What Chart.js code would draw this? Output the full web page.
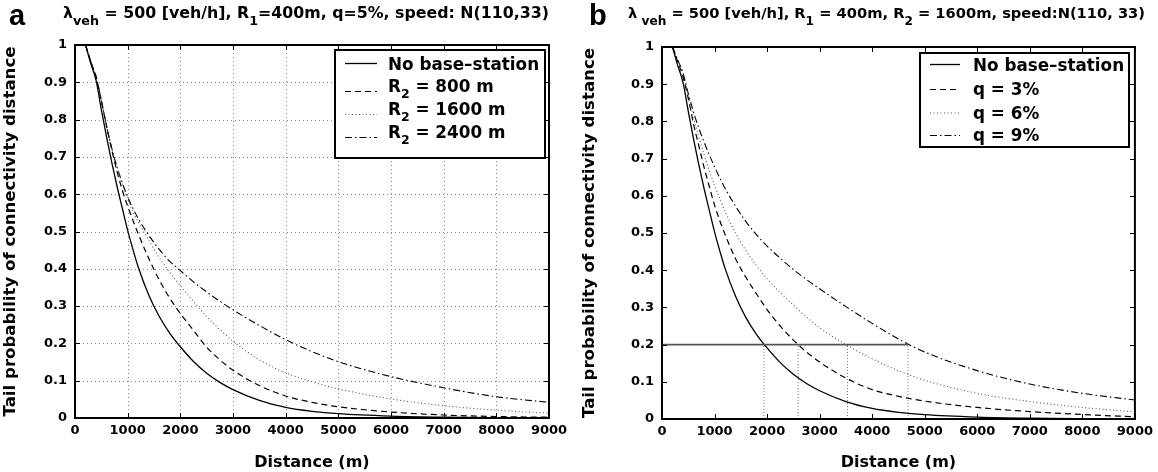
<!DOCTYPE html>
<html><head><meta charset="utf-8">
<script src="https://cdn.jsdelivr.net/npm/chart.js@4.4.1/dist/chart.umd.min.js"></script>
<style>
html,body{margin:0;padding:0;background:#fff;}
#wrap{position:relative;width:1158px;height:472px;overflow:hidden;}
.c{position:absolute;top:0;width:579px;height:472px;}
</style></head><body>
<div id="wrap">
<div class="c" style="left:0"><canvas id="ca" width="579" height="472"></canvas></div>
<div class="c" style="left:579px"><canvas id="cb" width="579" height="472"></canvas></div>
</div>
<script>
// ---------- data ----------
const distances = [200, 300, 400, 500, 600, 700, 800, 900, 1000, 1100, 1200, 1400, 1600, 1800, 2000, 2250, 2500, 2750, 3000, 3500, 4000, 4500, 5000, 6000, 7000, 8000, 9000];
const xTicks = [0, 1000, 2000, 3000, 4000, 5000, 6000, 7000, 8000, 9000];
const yTicks = [0, 0.1, 0.2, 0.3, 0.4, 0.5, 0.6, 0.7, 0.8, 0.9, 1];

// panel a : lambda = 500 veh/h, R1 = 400 m, q = 5%
const aNoBase = [1.0, 0.95, 0.905, 0.827, 0.753, 0.684, 0.62, 0.561, 0.503, 0.452, 0.405, 0.33, 0.272, 0.227, 0.191, 0.1515, 0.12, 0.0955, 0.076, 0.047, 0.0285, 0.018, 0.0115, 0.005, 0.002, 0.0008, 0.0003];
const aR800   = [1.0, 0.955, 0.915, 0.85, 0.782, 0.718, 0.66, 0.61, 0.568, 0.53, 0.494, 0.428, 0.37, 0.321, 0.28, 0.235, 0.19, 0.156, 0.128, 0.087, 0.059, 0.042, 0.03, 0.016, 0.008, 0.004, 0.002];
const aR1600  = [1.0, 0.955, 0.915, 0.852, 0.782, 0.722, 0.672, 0.627, 0.588, 0.553, 0.525, 0.477, 0.43, 0.39, 0.355, 0.312, 0.272, 0.237, 0.206, 0.156, 0.121, 0.097, 0.078, 0.051, 0.033, 0.021, 0.013];
const aR2400  = [1.0, 0.955, 0.915, 0.852, 0.782, 0.722, 0.672, 0.63, 0.593, 0.562, 0.535, 0.49, 0.452, 0.42, 0.395, 0.365, 0.338, 0.313, 0.29, 0.248, 0.21, 0.178, 0.151, 0.111, 0.081, 0.057, 0.042];

// panel b : lambda = 500 veh/h, R1 = 400 m, R2 = 1600 m
const bNoBase = [1.0, 0.95, 0.905, 0.827, 0.753, 0.684, 0.62, 0.561, 0.503, 0.452, 0.405, 0.33, 0.272, 0.227, 0.191, 0.1515, 0.12, 0.0955, 0.076, 0.047, 0.0285, 0.018, 0.0115, 0.005, 0.002, 0.0008, 0.0003];
const bQ3     = [1.0, 0.96, 0.92, 0.862, 0.793, 0.735, 0.677, 0.625, 0.575, 0.533, 0.496, 0.431, 0.38, 0.336, 0.294, 0.25, 0.212, 0.18, 0.153, 0.11, 0.079, 0.061, 0.048, 0.031, 0.02, 0.012, 0.006];
const bQ6     = [1.0, 0.965, 0.93, 0.87, 0.81, 0.758, 0.712, 0.668, 0.628, 0.592, 0.558, 0.50, 0.452, 0.412, 0.377, 0.34, 0.306, 0.274, 0.245, 0.20, 0.162, 0.13, 0.104, 0.069, 0.047, 0.031, 0.019];
const bQ9     = [1.0, 0.965, 0.93, 0.875, 0.825, 0.782, 0.745, 0.71, 0.678, 0.648, 0.62, 0.572, 0.53, 0.495, 0.465, 0.432, 0.402, 0.375, 0.35, 0.302, 0.257, 0.215, 0.18, 0.13, 0.094, 0.069, 0.051];
const bThreshold = 0.2;
const bCrossings = [1940, 2592, 3530, 4683];

// ---------- styles ----------
const FAM = '"DejaVu Sans", sans-serif';
const STY = {
  solid:   {color:'#000', width:1.3, dash:[]},
  dashed:  {color:'#000', width:1.2, dash:[6,4]},
  dotted:  {color:'#555', width:1.1, dash:[1,2.5]},
  dashdot: {color:'#000', width:1.1, dash:[7,3,1.5,3]}
};
const pts = (xs, ys) => xs.map((x, i) => ({x, y: ys[i]}));
function ds(label, ys, s) {
  return {label, data: pts(distances, ys), borderColor: s.color, borderWidth: s.width,
    borderDash: s.dash, pointRadius: 0, fill: false, cubicInterpolationMode: 'monotone'};
}

function drawRich(ctx, x, y, parts, size, subSize, subDrop, targetW) {
  ctx.save();
  let w = 0;
  parts.forEach(p => { ctx.font = `bold ${p.sub ? subSize : size}px ${FAM}`; p.w = ctx.measureText(p.t).width; w += p.w; });
  const sx = targetW ? targetW / w : 1;
  ctx.translate(x, y); ctx.scale(sx, 1);
  ctx.fillStyle = '#000'; ctx.textBaseline = 'alphabetic'; ctx.textAlign = 'left';
  let cx = 0;
  parts.forEach(p => { ctx.font = `bold ${p.sub ? subSize : size}px ${FAM}`; ctx.fillText(p.t, cx, p.sub ? subDrop : 0); cx += p.w; });
  ctx.restore();
}

const paperPlugin = {
  id: 'paper',
  beforeDatasetsDraw(chart, args, o) {
    if (!o.grid) return;
    const {ctx, chartArea: a} = chart; const sx = chart.scales.x, sy = chart.scales.y;
    ctx.save(); ctx.strokeStyle = '#8c8c8c'; ctx.lineWidth = 1; ctx.setLineDash([1, 3]);
    xTicks.forEach(v => { if (v > sx.min && v < sx.max) { const p = Math.round(sx.getPixelForValue(v)) + 0.5; ctx.beginPath(); ctx.moveTo(p, a.top); ctx.lineTo(p, a.bottom); ctx.stroke(); } });
    yTicks.forEach(v => { if (v > sy.min && v < sy.max) { const p = Math.round(sy.getPixelForValue(v)) + 0.5; ctx.beginPath(); ctx.moveTo(a.left, p); ctx.lineTo(a.right, p); ctx.stroke(); } });
    ctx.restore();
  },
  afterDatasetsDraw(chart, args, o) {
    const {ctx, chartArea: a} = chart; const sx = chart.scales.x, sy = chart.scales.y;
    ctx.save();
    ctx.strokeStyle = '#000'; ctx.lineWidth = 1; ctx.setLineDash([]);
    const L = 5;
    xTicks.forEach(v => { const p = Math.round(sx.getPixelForValue(v)) + 0.5; ctx.beginPath(); ctx.moveTo(p, a.bottom); ctx.lineTo(p, a.bottom - L); ctx.moveTo(p, a.top); ctx.lineTo(p, a.top + L); ctx.stroke(); });
    yTicks.forEach(v => { const p = Math.round(sy.getPixelForValue(v)) + 0.5; ctx.beginPath(); ctx.moveTo(a.left, p); ctx.lineTo(a.left + L, p); ctx.moveTo(a.right, p); ctx.lineTo(a.right - L, p); ctx.stroke(); });
    ctx.lineWidth = 2; ctx.strokeRect(a.left, a.top, a.right - a.left, a.bottom - a.top);
    const lg = o.legend;
    ctx.fillStyle = '#fff'; ctx.fillRect(lg.x1, lg.y1, lg.x2 - lg.x1, lg.y2 - lg.y1);
    ctx.lineWidth = 2; ctx.strokeStyle = '#000'; ctx.strokeRect(lg.x1, lg.y1, lg.x2 - lg.x1, lg.y2 - lg.y1);
    lg.rows.forEach(r => {
      const s = STY[r.style];
      ctx.save(); ctx.strokeStyle = s.color; ctx.lineWidth = s.width; ctx.setLineDash(s.dash);
      ctx.beginPath(); ctx.moveTo(lg.s1, r.ly); ctx.lineTo(lg.s2, r.ly); ctx.stroke(); ctx.restore();
      drawRich(ctx, lg.tx, r.by, r.parts, 16.8, 12.5, 6, null);
    });
    drawRich(ctx, o.title.x, o.title.y, o.title.parts, o.title.size, o.title.subSize, o.title.drop, o.title.w);
    ctx.font = `bold 29px "Liberation Sans", Arial, sans-serif`; ctx.fillStyle = '#000';
    ctx.textAlign = 'left'; ctx.textBaseline = 'alphabetic';
    ctx.fillText(o.letter.t, o.letter.x, o.letter.y);
    ctx.restore();
  }
};

function makeChart(id, datasets, cfg) {
  const tickFont = {family: FAM, weight: 'bold', size: 13};
  return new Chart(document.getElementById(id), {
    type: 'line',
    data: {datasets},
    plugins: [paperPlugin],
    options: {
      responsive: false, animation: false, devicePixelRatio: 1,
      layout: {padding: {top: cfg.top, right: cfg.right, left: 0, bottom: 0}},
      plugins: {legend: {display: false}, tooltip: {enabled: false}, paper: cfg.paper},
      scales: {
        x: {type: 'linear', min: 0, max: 9000,
            afterBuildTicks: s => { s.ticks = xTicks.map(v => ({value: v})); },
            afterFit: s => { s.height = cfg.xh; },
            grid: {display: false, drawTicks: false}, border: {display: false},
            ticks: {font: tickFont, color: '#000', padding: 5, maxRotation: 0, autoSkip: false, callback: v => String(v)},
            title: {display: true, text: 'Distance (m)', color: '#000', font: {family: FAM, weight: 'bold', size: 16}, padding: {top: 0, bottom: 0}}},
        y: {type: 'linear', min: 0, max: 1,
            afterBuildTicks: s => { s.ticks = yTicks.map(v => ({value: v})); },
            afterFit: s => { s.width = cfg.yw; },
            grid: {display: false, drawTicks: false}, border: {display: false},
            ticks: {font: tickFont, color: '#000', padding: 8, autoSkip: false, callback: v => (v === 0 ? '0' : v === 1 ? '1' : v.toFixed(1))},
            title: {display: true, text: 'Tail probability of connectivity distance', color: '#000', font: {family: FAM, weight: 'bold', size: 16.6}, padding: {top: 1, bottom: 0}}}
      }
    }
  });
}

// panel a
makeChart('ca', [
  ds('No base–station', aNoBase, STY.solid),
  ds('R2 = 800 m', aR800, STY.dashed),
  ds('R2 = 1600 m', aR1600, STY.dotted),
  ds('R2 = 2400 m', aR2400, STY.dashdot)
], {top: 45, right: 30, xh: 54, yw: 75, paper: {
  grid: true,
  letter: {t: 'a', x: 9, y: 25},
  title: {x: 63, y: 18, size: 15.5, subSize: 12.5, drop: 7, w: 486,
    parts: [{t:'λ'},{t:'veh',sub:1},{t:' = 500 [veh/h], R'},{t:'1',sub:1},{t:'=400m, q=5%, speed: N(110,33)'}]},
  legend: {x1: 335, y1: 50, x2: 545, y2: 158, s1: 345, s2: 377, tx: 388, rows: [
    {style:'solid', ly: 63.5, by: 69.5, parts:[{t:'No base–station'}]},
    {style:'dashed', ly: 91.5, by: 92, parts:[{t:'R'},{t:'2',sub:1},{t:' = 800 m'}]},
    {style:'dotted', ly: 114.5, by: 115, parts:[{t:'R'},{t:'2',sub:1},{t:' = 1600 m'}]},
    {style:'dashdot', ly: 137.5, by: 138, parts:[{t:'R'},{t:'2',sub:1},{t:' = 2400 m'}]}
  ]}
}});

// panel b
const refLines = [
  {label: 'threshold', data: [{x: 0, y: bThreshold}, {x: bCrossings[bCrossings.length - 1], y: bThreshold}],
   borderColor: '#555', borderWidth: 1.6, pointRadius: 0, fill: false}
].concat(bCrossings.map(d => ({label: 'drop', data: [{x: d, y: 0}, {x: d, y: bThreshold}],
   borderColor: '#777', borderWidth: 1, borderDash: [1, 2], pointRadius: 0, fill: false})));

makeChart('cb', refLines.concat([
  ds('No base–station', bNoBase, STY.solid),
  ds('q = 3%', bQ3, STY.dashed),
  ds('q = 6%', bQ6, STY.dotted),
  ds('q = 9%', bQ9, STY.dashdot)
]), {top: 47, right: 23, xh: 53, yw: 83, paper: {
  grid: false,
  letter: {t: 'b', x: 10, y: 25},
  title: {x: 49, y: 18, size: 14.5, subSize: 12, drop: 7, w: 517,
    parts: [{t:'λ'},{t:' veh',sub:1},{t:' = 500 [veh/h], R'},{t:'1',sub:1},{t:' = 400m, R'},{t:'2',sub:1},{t:' = 1600m, speed:N(110, 33)'}]},
  legend: {x1: 341, y1: 53, x2: 550, y2: 147, s1: 351, s2: 381, tx: 394, rows: [
    {style:'solid', ly: 64.5, by: 70.5, parts:[{t:'No base–station'}]},
    {style:'dashed', ly: 89.5, by: 95, parts:[{t:'q = 3%'}]},
    {style:'dotted', ly: 113, by: 118.5, parts:[{t:'q = 6%'}]},
    {style:'dashdot', ly: 135.5, by: 141, parts:[{t:'q = 9%'}]}
  ]}
}});
</script>
</body></html>
